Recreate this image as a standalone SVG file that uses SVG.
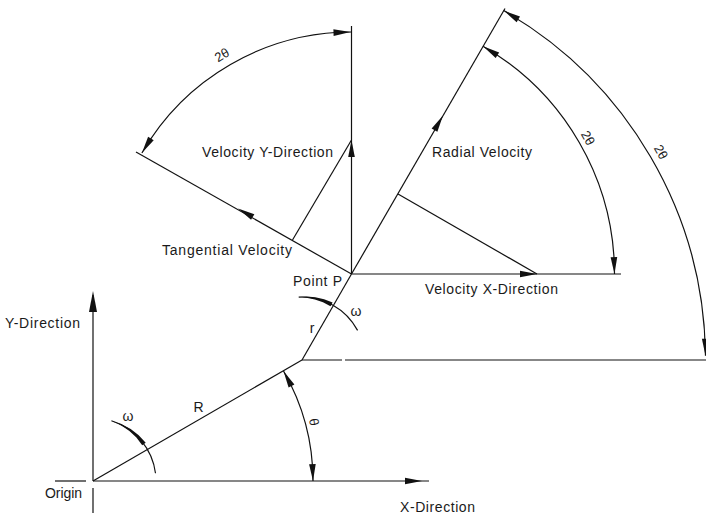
<svg xmlns="http://www.w3.org/2000/svg" width="706" height="515" viewBox="0 0 706 515">
<defs>
<path id="ah" d="M0,0 L-17,-3.3 L-17,3.3 Z"/>
<path id="ahL" d="M0,0 L-21,-4 L-21,4 Z"/>
</defs>
<style>
.ln{stroke:#111;stroke-width:1.2;fill:none}
.ar{fill:#111;stroke:none}
text{font-family:"Liberation Sans",Arial,sans-serif;font-size:14px;fill:#1a1a1a}
.rot{text-anchor:middle;dominant-baseline:central;font-size:13px}
.mid{text-anchor:middle}
</style>
<rect width="706" height="515" fill="#ffffff"/>
<g id="connectors" class="ln">
<g id="axes">
<line x1="55" y1="481" x2="86" y2="481"/>
<line x1="93" y1="481" x2="429" y2="481"/>
<line x1="93" y1="481" x2="93" y2="295"/>
<line x1="93" y1="488" x2="93" y2="513"/>
</g>
<g id="construction">
<line x1="93" y1="481" x2="302" y2="360"/>
<line x1="302" y1="360" x2="351.5" y2="274"/>
<line x1="302" y1="360" x2="342" y2="360"/>
<line x1="345" y1="360" x2="706" y2="360"/>
<line x1="351.5" y1="274" x2="351.5" y2="26"/>
<line x1="351.5" y1="274" x2="621" y2="274"/>
<line x1="351.5" y1="274" x2="505" y2="8.5"/>
<line x1="351.5" y1="274" x2="136" y2="152"/>
<line x1="351.5" y1="140" x2="292.5" y2="240"/>
<line x1="537" y1="274" x2="398" y2="194"/>
</g>
<g id="arcs">
<path d="M351.5,32 A242,242 0 0 0 141.9,153"/>
<path d="M483,46.2 A263,263 0 0 1 614.5,274"/>
<path d="M503.75,10.6 A403.5,403.5 0 0 1 705.5,355.8"/>
<path d="M313,481 A220,220 0 0 0 283.5,371"/>
<path d="M111.4,420.8 A63,63 0 0 1 155.5,473.3"/>
<path d="M298.7,297.1 A63,63 0 0 1 357.6,330.4"/>
</g>
</g>
<g id="arrowheads" class="ar">
<use href="#ahL" transform="translate(93,291) rotate(-90)"/>
<use href="#ah" transform="translate(422,481)"/>
<use href="#ah" transform="translate(351.5,140) rotate(-90)"/>
<use href="#ah" transform="translate(537,274)"/>
<use href="#ah" transform="translate(443,115.5) rotate(-60)"/>
<use href="#ah" transform="translate(238,208.5) rotate(-150)"/>
<use href="#ah" transform="translate(350.5,32) rotate(-2)"/>
<use href="#ah" transform="translate(141.9,153) rotate(122)"/>
<use href="#ah" transform="translate(483,46.2) rotate(-148)"/>
<use href="#ah" transform="translate(614.5,274) rotate(88)"/>
<use href="#ah" transform="translate(503.75,10.6) rotate(-149)"/>
<use href="#ah" transform="translate(705.5,355.8) rotate(89)"/>
<use href="#ah" transform="translate(283.5,371) rotate(-118)"/>
<use href="#ah" transform="translate(313,481) rotate(88)"/>
<polygon points="145.7,442.7 138.7,435.3 130.7,429.1 121.9,424.4 111.4,420.8 121.4,425.4 129.4,430.9 136.4,437.6 142.2,445.3"/>
<polygon points="332.6,302.4 324.1,299.2 315.3,297.3 306.4,296.6 298.7,297.1 306.4,297.7 314.9,299.5 323.0,302.3 330.5,306.3"/>
</g>
<g id="labels">
<text class="rot" transform="translate(222,55) rotate(-31)">2θ</text>
<text class="rot" transform="translate(588,138) rotate(60)">2θ</text>
<text class="rot" transform="translate(661,152) rotate(60)">2θ</text>
<text class="rot" transform="translate(314,422) rotate(80)">θ</text>
<text x="202" y="156.5" textLength="131" lengthAdjust="spacing">Velocity Y-Direction</text>
<text x="432" y="156.5" textLength="100" lengthAdjust="spacing">Radial Velocity</text>
<text x="162" y="255" textLength="130" lengthAdjust="spacing">Tangential Velocity</text>
<text x="293" y="286" textLength="49" lengthAdjust="spacing">Point P</text>
<text x="425" y="293.5" textLength="133" lengthAdjust="spacing">Velocity X-Direction</text>
<text class="mid" x="356" y="316">ω</text>
<text class="mid" x="312" y="333">r</text>
<text x="5" y="328" textLength="75" lengthAdjust="spacing">Y-Direction</text>
<text class="mid" x="128" y="421">ω</text>
<text class="mid" x="198.5" y="411.5">R</text>
<text x="45" y="498" textLength="37" lengthAdjust="spacing">Origin</text>
<text x="400" y="512" textLength="75" lengthAdjust="spacing">X-Direction</text>
</g>
</svg>
